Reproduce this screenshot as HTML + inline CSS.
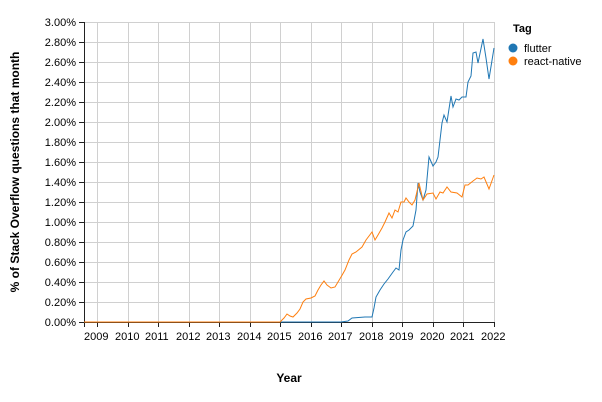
<!DOCTYPE html>
<html><head><meta charset="utf-8"><style>
html,body{margin:0;padding:0;background:#fff;}
svg{display:block;font-family:"Liberation Sans","DejaVu Sans",sans-serif;}
</style></head><body>
<svg width="602" height="402" viewBox="0 0 602 402" xmlns="http://www.w3.org/2000/svg">
<g stroke="#d0d0d0" stroke-width="1">
<line x1="97.5" y1="22" x2="97.5" y2="322"/><line x1="128.5" y1="22" x2="128.5" y2="322"/><line x1="158.5" y1="22" x2="158.5" y2="322"/><line x1="189.5" y1="22" x2="189.5" y2="322"/><line x1="219.5" y1="22" x2="219.5" y2="322"/><line x1="250.5" y1="22" x2="250.5" y2="322"/><line x1="280.5" y1="22" x2="280.5" y2="322"/><line x1="311.5" y1="22" x2="311.5" y2="322"/><line x1="341.5" y1="22" x2="341.5" y2="322"/><line x1="372.5" y1="22" x2="372.5" y2="322"/><line x1="402.5" y1="22" x2="402.5" y2="322"/><line x1="433.5" y1="22" x2="433.5" y2="322"/><line x1="463.5" y1="22" x2="463.5" y2="322"/><line x1="494.5" y1="22" x2="494.5" y2="322"/>
<line x1="84" y1="22.5" x2="494" y2="22.5"/><line x1="84" y1="42.5" x2="494" y2="42.5"/><line x1="84" y1="62.5" x2="494" y2="62.5"/><line x1="84" y1="82.5" x2="494" y2="82.5"/><line x1="84" y1="102.5" x2="494" y2="102.5"/><line x1="84" y1="122.5" x2="494" y2="122.5"/><line x1="84" y1="142.5" x2="494" y2="142.5"/><line x1="84" y1="162.5" x2="494" y2="162.5"/><line x1="84" y1="182.5" x2="494" y2="182.5"/><line x1="84" y1="202.5" x2="494" y2="202.5"/><line x1="84" y1="222.5" x2="494" y2="222.5"/><line x1="84" y1="242.5" x2="494" y2="242.5"/><line x1="84" y1="262.5" x2="494" y2="262.5"/><line x1="84" y1="282.5" x2="494" y2="282.5"/><line x1="84" y1="302.5" x2="494" y2="302.5"/>
</g>
<g stroke="#222" stroke-width="1">
<line x1="84.5" y1="22" x2="84.5" y2="322"/><line x1="84" y1="322.5" x2="494" y2="322.5"/>
</g>
<g stroke="#222">
<line x1="79" y1="22.5" x2="84" y2="22.5"/><line x1="79" y1="42.5" x2="84" y2="42.5"/><line x1="79" y1="62.5" x2="84" y2="62.5"/><line x1="79" y1="82.5" x2="84" y2="82.5"/><line x1="79" y1="102.5" x2="84" y2="102.5"/><line x1="79" y1="122.5" x2="84" y2="122.5"/><line x1="79" y1="142.5" x2="84" y2="142.5"/><line x1="79" y1="162.5" x2="84" y2="162.5"/><line x1="79" y1="182.5" x2="84" y2="182.5"/><line x1="79" y1="202.5" x2="84" y2="202.5"/><line x1="79" y1="222.5" x2="84" y2="222.5"/><line x1="79" y1="242.5" x2="84" y2="242.5"/><line x1="79" y1="262.5" x2="84" y2="262.5"/><line x1="79" y1="282.5" x2="84" y2="282.5"/><line x1="79" y1="302.5" x2="84" y2="302.5"/><line x1="79" y1="322.5" x2="84" y2="322.5"/>
<line x1="84.5" y1="322" x2="84.5" y2="327"/><line x1="97.5" y1="322" x2="97.5" y2="327"/><line x1="128.5" y1="322" x2="128.5" y2="327"/><line x1="158.5" y1="322" x2="158.5" y2="327"/><line x1="189.5" y1="322" x2="189.5" y2="327"/><line x1="219.5" y1="322" x2="219.5" y2="327"/><line x1="250.5" y1="322" x2="250.5" y2="327"/><line x1="280.5" y1="322" x2="280.5" y2="327"/><line x1="311.5" y1="322" x2="311.5" y2="327"/><line x1="341.5" y1="322" x2="341.5" y2="327"/><line x1="372.5" y1="322" x2="372.5" y2="327"/><line x1="402.5" y1="322" x2="402.5" y2="327"/><line x1="433.5" y1="322" x2="433.5" y2="327"/><line x1="463.5" y1="322" x2="463.5" y2="327"/><line x1="494.5" y1="322" x2="494.5" y2="327"/>
</g>
<g font-size="11" fill="#000" text-anchor="end">
<text x="76" y="26">3.00%</text><text x="76" y="46">2.80%</text><text x="76" y="66">2.60%</text><text x="76" y="86">2.40%</text><text x="76" y="106">2.20%</text><text x="76" y="126">2.00%</text><text x="76" y="146">1.80%</text><text x="76" y="166">1.60%</text><text x="76" y="186">1.40%</text><text x="76" y="206">1.20%</text><text x="76" y="226">1.00%</text><text x="76" y="246">0.80%</text><text x="76" y="266">0.60%</text><text x="76" y="286">0.40%</text><text x="76" y="306">0.20%</text><text x="76" y="326">0.00%</text>
</g>
<g font-size="11" fill="#000" text-anchor="start">
<text x="84" y="340">2009</text><text x="115" y="340">2010</text><text x="145" y="340">2011</text><text x="176" y="340">2012</text><text x="206" y="340">2013</text><text x="237" y="340">2014</text><text x="267" y="340">2015</text><text x="298" y="340">2016</text><text x="328" y="340">2017</text><text x="359" y="340">2018</text><text x="389" y="340">2019</text><text x="420" y="340">2020</text><text x="450" y="340">2021</text><text x="481" y="340">2022</text>
</g>
<text x="289" y="382" font-size="12" font-weight="bold" text-anchor="middle">Year</text>
<text transform="translate(19,172) rotate(-90)" font-size="12" font-weight="bold" text-anchor="middle">% of Stack Overflow questions that month</text>
<polyline fill="none" stroke="#1f77b4" stroke-width="1" points="84,322 341,322 348,321 352,318 365,317 372,317 374,308 376,297 380,290 384,284 388,279 393,272 396,268 399,270 401,250 403,240 406,232 409,230 413,226 416,210 418,183 420,192 423,200 426,190 429,157 433,166 436,162 438,157 442,123 444,115 447,122 451,96 453,107 456,99 459,100 462,97 466,97 468,82 471,76 473,53 476,52 478,63 483,39 486,58 489,79 494,48"/>
<polyline fill="none" stroke="#ff7f0e" stroke-width="1" points="84,322 280,322 284,318 287,314 290,316 293,317 297,313 300,309 303,302 306,299 311,298 315,296 318,290 321,285 324,281 327,285 331,288 335,287 341,277 345,270 349,260 352,254 356,252 362,247 366,240 369,236 372,232 375,240 378,235 382,228 385,222 389,213 392,218 395,210 398,212 401,202 404,202 406,198 409,202 412,205 415,200 419,183 423,200 427,194 433,193 436,199 440,192 443,193 447,187 451,192 457,193 462,197 465,185 468,185 473,181 477,178 481,179 484,177 489,189 494,175"/>
<text x="513" y="32" font-size="11" font-weight="bold">Tag</text>
<circle cx="513" cy="48" r="4.5" fill="#1f77b4"/>
<text x="524" y="52" font-size="11">flutter</text>
<circle cx="513" cy="61" r="4.5" fill="#ff7f0e"/>
<text x="524" y="65" font-size="11">react-native</text>
</svg>
</body></html>
